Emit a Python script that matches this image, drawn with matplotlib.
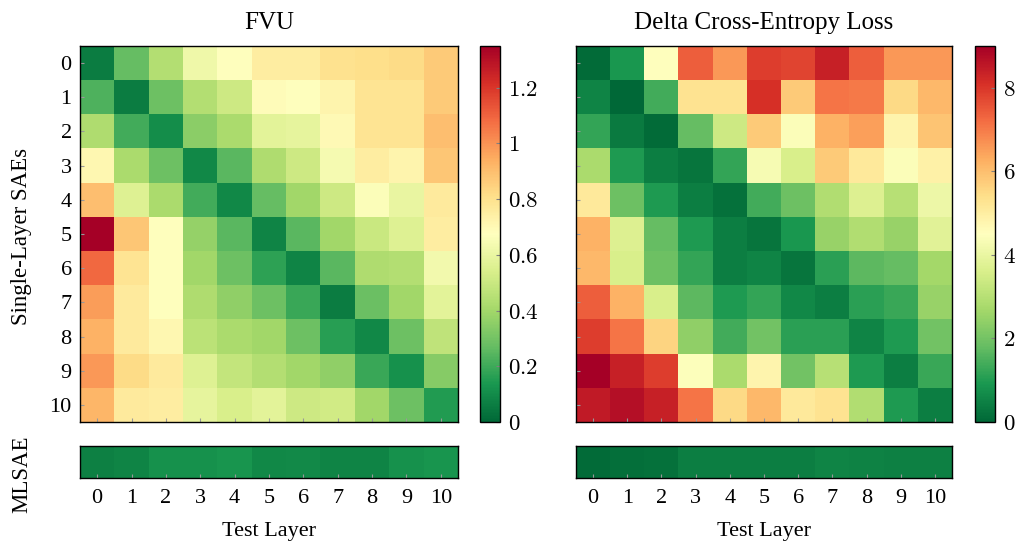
import matplotlib
matplotlib.use("Agg")
import matplotlib.pyplot as plt
from matplotlib.colors import Normalize
import numpy as np

plt.rcParams['font.family'] = ['Liberation Serif', 'DejaVu Serif']
plt.rcParams['mathtext.fontset'] = 'cm'

layers = list(range(11))

# FVU, rows = single-layer SAE trained on layer, cols = test layer
fvu = np.array([
    [0.06, 0.27, 0.44, 0.62, 0.67, 0.75, 0.75, 0.80, 0.81, 0.82, 0.87],
    [0.23, 0.06, 0.29, 0.44, 0.51, 0.69, 0.67, 0.72, 0.79, 0.79, 0.87],
    [0.43, 0.21, 0.11, 0.35, 0.42, 0.58, 0.59, 0.70, 0.79, 0.79, 0.90],
    [0.71, 0.42, 0.29, 0.09, 0.25, 0.43, 0.51, 0.64, 0.75, 0.72, 0.88],
    [0.90, 0.56, 0.42, 0.21, 0.09, 0.27, 0.40, 0.51, 0.66, 0.60, 0.76],
    [1.35, 0.88, 0.67, 0.37, 0.25, 0.08, 0.25, 0.40, 0.50, 0.56, 0.75],
    [1.09, 0.79, 0.67, 0.40, 0.29, 0.17, 0.08, 0.25, 0.43, 0.44, 0.63],
    [0.98, 0.76, 0.67, 0.43, 0.36, 0.29, 0.19, 0.06, 0.28, 0.40, 0.58],
    [0.93, 0.76, 0.71, 0.46, 0.42, 0.40, 0.29, 0.16, 0.09, 0.29, 0.47],
    [0.99, 0.82, 0.76, 0.56, 0.48, 0.44, 0.40, 0.36, 0.19, 0.12, 0.34],
    [0.92, 0.76, 0.75, 0.59, 0.54, 0.58, 0.51, 0.52, 0.40, 0.29, 0.15],
])
fvu_mlsae = np.array([0.07, 0.08, 0.12, 0.12, 0.13, 0.09, 0.10, 0.08, 0.08, 0.12, 0.13])

# delta cross-entropy loss
dce = np.array([
    [0.09, 0.89, 4.50, 7.40, 6.60, 7.90, 7.80, 8.40, 7.40, 6.60, 6.60],
    [0.53, 0.02, 1.40, 5.30, 5.30, 8.10, 5.80, 7.10, 7.00, 5.50, 6.10],
    [1.20, 0.36, 0.09, 1.80, 3.40, 5.80, 4.40, 6.20, 6.50, 4.80, 5.90],
    [2.80, 0.98, 0.45, 0.27, 1.20, 4.30, 3.60, 5.80, 5.10, 4.40, 4.90],
    [5.10, 1.90, 0.98, 0.45, 0.18, 1.40, 1.90, 2.90, 3.70, 3.00, 4.10],
    [6.20, 3.70, 1.80, 0.98, 0.45, 0.27, 0.89, 2.50, 2.90, 2.50, 3.80],
    [6.10, 3.60, 1.90, 1.20, 0.45, 0.53, 0.27, 1.10, 1.70, 1.80, 2.70],
    [7.40, 6.20, 3.60, 1.70, 0.98, 1.20, 0.62, 0.45, 1.10, 1.30, 2.50],
    [7.90, 7.10, 5.60, 2.40, 1.40, 2.00, 1.10, 1.10, 0.53, 0.98, 2.00],
    [9.00, 8.40, 7.90, 4.45, 2.80, 4.80, 2.00, 3.00, 0.98, 0.45, 1.30],
    [8.50, 8.70, 8.40, 7.10, 5.50, 6.10, 5.10, 5.30, 2.90, 0.98, 0.45],
])
dce_mlsae = np.array([0.09, 0.15, 0.18, 0.45, 0.45, 0.45, 0.45, 0.55, 0.50, 0.48, 0.47])

fvu_ticks = [0, 0.2, 0.4, 0.6, 0.8, 1, 1.2]
dce_ticks = [0, 2, 4, 6, 8]

W, H = 1020, 546
fig = plt.figure(figsize=(W / 100, H / 100), dpi=100)


def box(x0, y0, x1, y1):
    # pixel box (top-left origin) -> figure fraction rect
    return [x0 / W, (H - y1) / H, (x1 - x0) / W, (y1 - y0) / H]


def panel(xl, xr, xc0, xc1, mat, row, ticks, title, show_y):
    norm = Normalize(vmin=0, vmax=mat.max())
    ax = fig.add_axes(box(xl, 46, xr, 422))
    im = ax.imshow(mat, cmap='RdYlGn_r', norm=norm, aspect='auto')
    ax.set_title(title, fontsize=18, pad=12)
    ax.set_xticks(layers)
    ax.set_xticklabels([])
    ax.set_yticks(layers)
    if show_y:
        ax.set_yticklabels([str(i) for i in layers], fontsize=16)
    else:
        ax.set_yticklabels([])
    ax.tick_params(direction='in', length=3, color='0.6', pad=6)

    axs = fig.add_axes(box(xl, 446, xr, 478))
    axs.imshow(row[np.newaxis, :], cmap='RdYlGn_r', norm=norm, aspect='auto')
    axs.set_yticks([])
    axs.set_xticks(layers)
    axs.set_xticklabels([str(i) for i in layers], fontsize=16)
    axs.tick_params(direction='in', length=3, color='0.6', pad=8)
    axs.set_xlabel('Test Layer', fontsize=16, labelpad=10)

    cax = fig.add_axes(box(xc0, 46, xc1, 422))
    cb = fig.colorbar(im, cax=cax)
    cb.set_ticks(ticks)
    cb.set_ticklabels(['$%g$' % t for t in ticks])
    cb.ax.tick_params(labelsize=16.5, direction='in', length=3, color='0.5', pad=6)
    for a in (ax, axs, cax):
        for s in a.spines.values():
            s.set_linewidth(1.0)
    return ax


panel(80, 458, 480, 500, fvu, fvu_mlsae, fvu_ticks, 'FVU', True)
panel(576, 952, 975, 995, dce, dce_mlsae, dce_ticks, 'Delta Cross-Entropy Loss', False)

fig.text(22 / W, 1 - 236 / H, 'Single-Layer SAEs', rotation=90, ha='center', va='center', fontsize=16.5)
fig.text(22 / W, 1 - 474 / H, 'MLSAE', rotation=90, ha='center', va='center', fontsize=16.5)

fig.savefig('out.png', dpi=100)
